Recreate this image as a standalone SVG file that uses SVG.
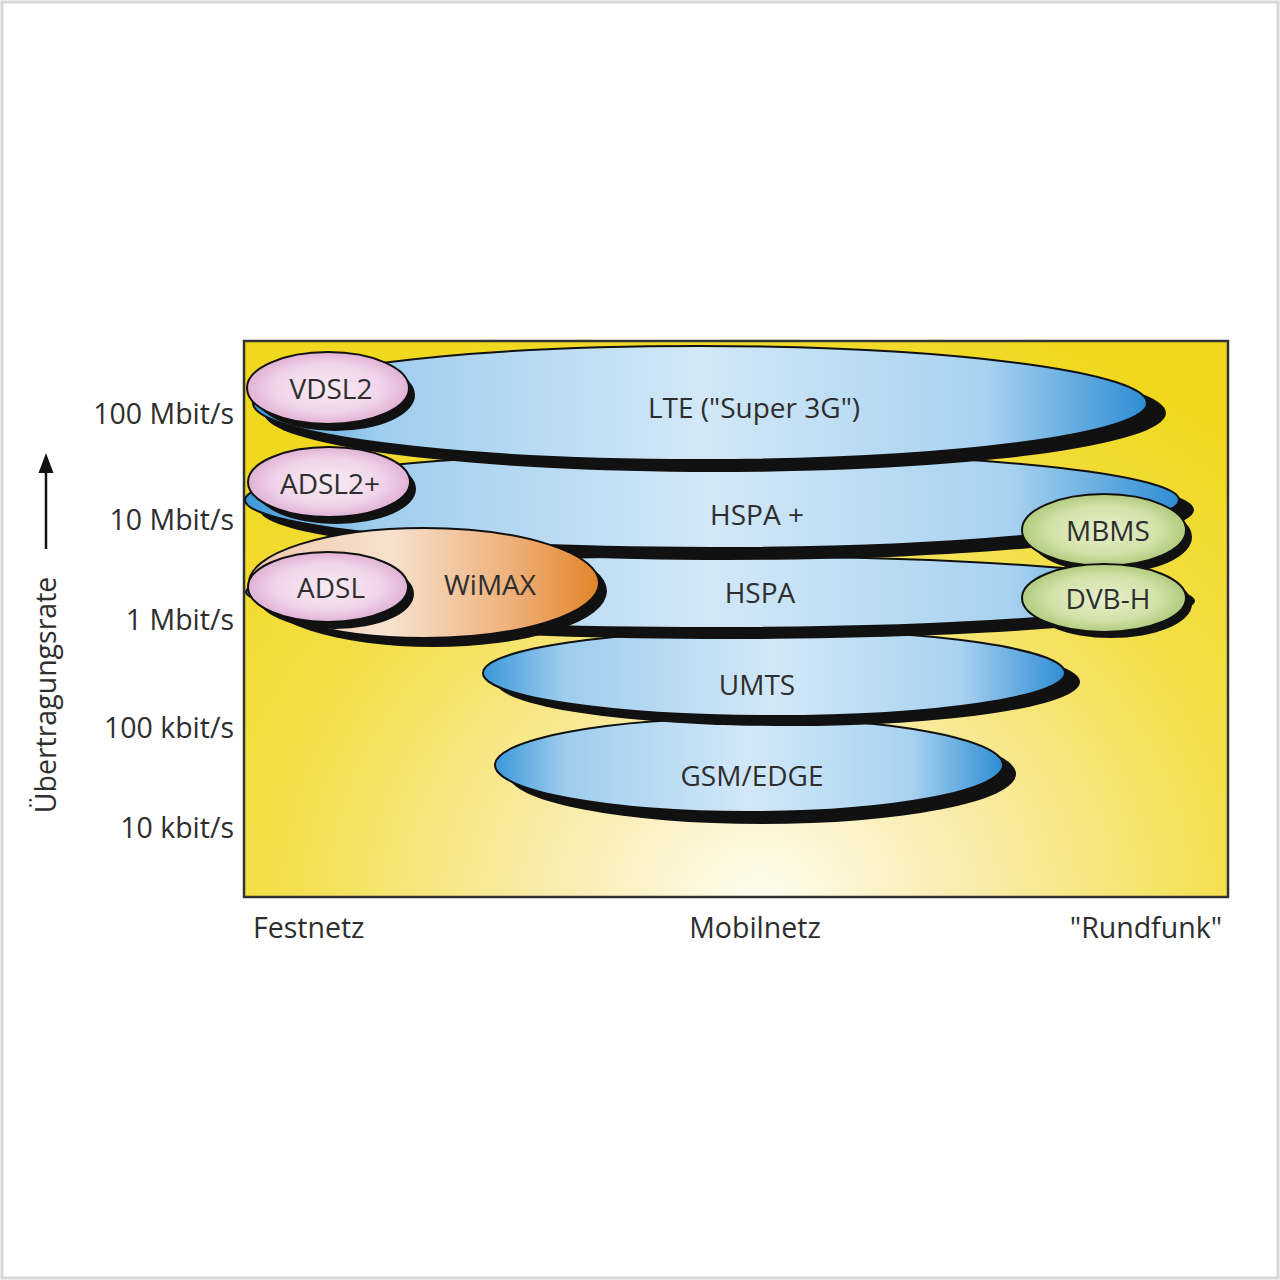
<svg xmlns="http://www.w3.org/2000/svg" width="1280" height="1280" viewBox="0 0 1280 1280">
<defs>
<radialGradient id="bg" gradientUnits="userSpaceOnUse" cx="760" cy="900" r="720" fx="760" fy="900" gradientTransform="translate(760 900) scale(1 0.85) translate(-760 -900)">
<stop offset="0" stop-color="#fffcef"/>
<stop offset="0.3" stop-color="#f9ecab"/>
<stop offset="0.65" stop-color="#f4e04e"/>
<stop offset="1" stop-color="#f0d81e"/>
</radialGradient>
<linearGradient id="blue" x1="0" y1="0" x2="1" y2="0">
<stop offset="0" stop-color="#3b98d8"/>
<stop offset="0.14" stop-color="#9fcdee"/>
<stop offset="0.5" stop-color="#d2e8f8"/>
<stop offset="0.82" stop-color="#a8d2f0"/>
<stop offset="1" stop-color="#2e8dd3"/>
</linearGradient>
<radialGradient id="pink" cx="0.5" cy="0.5" r="0.55">
<stop offset="0" stop-color="#f8ecf5"/>
<stop offset="0.6" stop-color="#f0d4e9"/>
<stop offset="1" stop-color="#dca8cf"/>
</radialGradient>
<radialGradient id="green" cx="0.5" cy="0.5" r="0.55">
<stop offset="0" stop-color="#e6efcb"/>
<stop offset="0.6" stop-color="#d2e2a8"/>
<stop offset="1" stop-color="#a6c472"/>
</radialGradient>
<linearGradient id="orange" x1="0" y1="0" x2="1" y2="0">
<stop offset="0" stop-color="#efc6ab"/>
<stop offset="0.4" stop-color="#f7e2cf"/>
<stop offset="0.75" stop-color="#eeb079"/>
<stop offset="1" stop-color="#e2842a"/>
</linearGradient>
</defs>
<style>
.sh{fill:#111}
.el{stroke:#111;stroke-width:2}
.lbl{font-family:"Open Sans","Liberation Sans",sans-serif;font-size:28px;fill:#2e2e2e;text-anchor:middle}
.ax{font-family:"Open Sans","Liberation Sans",sans-serif;font-size:28.5px;fill:#2e2e2e;text-anchor:end}
.bx{font-family:"Open Sans","Liberation Sans",sans-serif;font-size:28.5px;fill:#2e2e2e}
</style>
<rect x="0" y="0" width="1280" height="1280" fill="#ffffff"/>
<rect x="2" y="2" width="1276" height="1276" fill="none" stroke="#d8d8d8" stroke-width="3"/>
<rect id="chart" x="244" y="341" width="984" height="556" fill="url(#bg)" stroke="#333" stroke-width="2.5"/>

<g id="gsm">
<ellipse class="sh" cx="762" cy="774" rx="254" ry="50"/>
<ellipse class="el" cx="749" cy="765" rx="254" ry="47" fill="url(#blue)"/>
<text class="lbl" x="752" y="786">GSM/EDGE</text>
</g>
<g id="umts">
<ellipse class="sh" cx="788" cy="682" rx="292" ry="44"/>
<ellipse class="el" cx="774" cy="673" rx="291" ry="43" fill="url(#blue)"/>
<text class="lbl" x="757" y="695">UMTS</text>
</g>
<g id="hspa">
<ellipse class="sh" cx="728" cy="601" rx="467" ry="38"/>
<ellipse class="el" cx="713" cy="592" rx="467" ry="36" fill="url(#blue)"/>
<text class="lbl" x="760" y="603">HSPA</text>
</g>
<g id="hspaplus">
<ellipse class="sh" cx="727" cy="510" rx="467" ry="50"/>
<ellipse class="el" cx="712" cy="500" rx="467" ry="48" fill="url(#blue)"/>
<text class="lbl" x="757" y="525">HSPA +</text>
</g>
<g id="lte">
<ellipse class="sh" cx="715" cy="413" rx="451" ry="59"/>
<ellipse class="el" cx="700" cy="403" rx="447" ry="57" fill="url(#blue)"/>
<text class="lbl" x="754" y="418">LTE ("Super 3G")</text>
</g>
<g id="wimax">
<ellipse class="sh" cx="433" cy="591" rx="174" ry="56"/>
<ellipse class="el" cx="424" cy="583" rx="175" ry="55" fill="url(#orange)"/>
<text class="lbl" x="490" y="595">WiMAX</text>
</g>
<g id="vdsl2">
<ellipse class="sh" cx="335" cy="395" rx="80" ry="36"/>
<ellipse class="el" cx="328" cy="388" rx="81" ry="36" fill="url(#pink)"/>
<text class="lbl" x="331" y="399">VDSL2</text>
</g>
<g id="adsl2plus">
<ellipse class="sh" cx="336" cy="489" rx="80" ry="35"/>
<ellipse class="el" cx="329" cy="482" rx="81" ry="35" fill="url(#pink)"/>
<text class="lbl" x="330" y="494">ADSL2+</text>
</g>
<g id="adsl">
<ellipse class="sh" cx="335" cy="594" rx="79" ry="35"/>
<ellipse class="el" cx="328" cy="587" rx="80" ry="35" fill="url(#pink)"/>
<text class="lbl" x="331" y="598">ADSL</text>
</g>
<g id="mbms">
<ellipse class="sh" cx="1111" cy="537" rx="81" ry="36"/>
<ellipse class="el" cx="1104" cy="530" rx="82" ry="36" fill="url(#green)"/>
<text class="lbl" x="1108" y="541">MBMS</text>
</g>
<g id="dvbh">
<ellipse class="sh" cx="1111" cy="604" rx="81" ry="34"/>
<ellipse class="el" cx="1104" cy="598" rx="82" ry="34" fill="url(#green)"/>
<text class="lbl" x="1108" y="609">DVB-H</text>
</g>

<g id="axis">
<line x1="46" y1="549" x2="46" y2="470" stroke="#111" stroke-width="2.5"/>
<polygon points="46,453 38.5,473 53.5,473" fill="#111"/>
<text class="bx" transform="translate(56 695) rotate(-90)" text-anchor="middle">Übertragungsrate</text>
<text class="ax" x="234" y="424">100 Mbit/s</text>
<text class="ax" x="234" y="530">10 Mbit/s</text>
<text class="ax" x="234" y="630">1 Mbit/s</text>
<text class="ax" x="234" y="738">100 kbit/s</text>
<text class="ax" x="234" y="838">10 kbit/s</text>
<text class="bx" x="253" y="938">Festnetz</text>
<text class="bx" x="755" y="938" text-anchor="middle">Mobilnetz</text>
<text class="bx" x="1222" y="938" text-anchor="end">"Rundfunk"</text>
</g>
</svg>
